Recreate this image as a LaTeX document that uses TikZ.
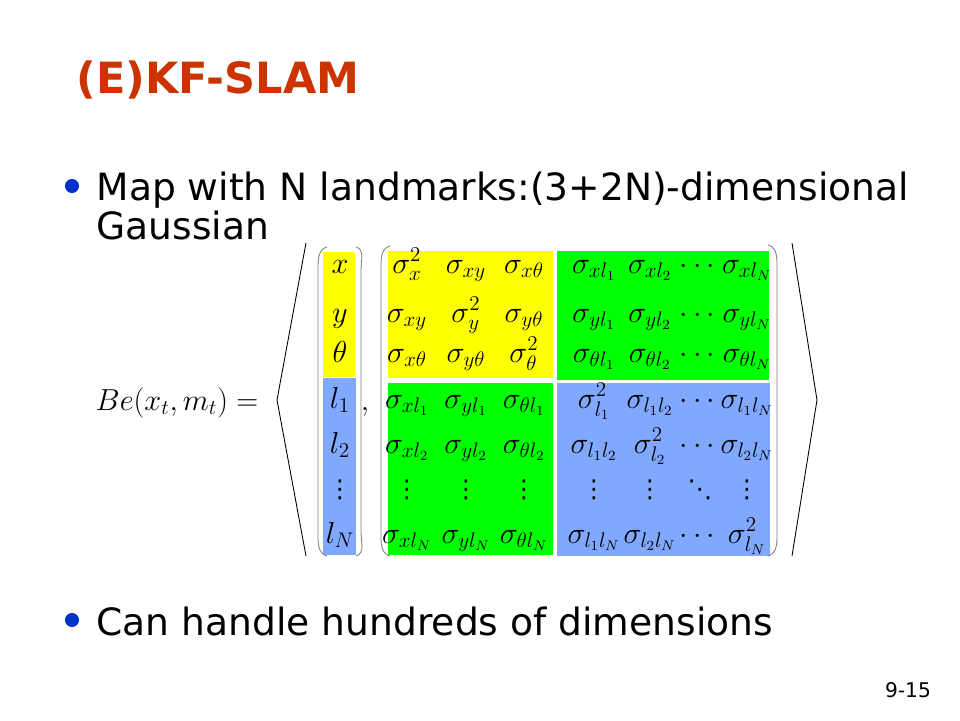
\documentclass[tikz,border=0pt]{standalone}
\usepackage[no-math]{fontspec}
\setmainfont{DejaVu Sans}
\usepackage{amsmath}
\usepackage{tikz}
\usepackage{xcolor}

\definecolor{slidered}{RGB}{204,51,0}
\definecolor{bulletblue}{RGB}{0,51,204}
\definecolor{covyellow}{RGB}{255,255,0}
\definecolor{covgreen}{RGB}{0,255,0}
\definecolor{covblue}{RGB}{128,168,255}

\tikzset{
  entry/.style={anchor=base, inner sep=0pt, font=\fontsize{17}{20}\selectfont},
  dotsentry/.style={anchor=base, inner sep=0pt, font=\fontsize{14}{16}\selectfont},
  bodytext/.style={anchor=base west, inner sep=0pt, font=\fontsize{21.4}{25}\selectfont},
  bulletdot/.style={circle, fill=bulletblue, inner sep=0pt, minimum size=8pt},
  paren/.style={gray, line width=0.5pt},
  angle/.style={black, line width=0.5pt},
}

\begin{document}
\begin{tikzpicture}[x=0.02cm, y=-0.02cm, thick, >=stealth]
    \useasboundingbox (0,0) rectangle (960,720);
    \node[anchor=base west, inner sep=0pt, text=slidered, font=\fontsize{24.5}{28}\selectfont\bfseries] (title) at (76,93) {(E)KF-SLAM};
    \node[bulletdot] (dotmap) at (72,186) {};
    \node[bodytext] (maptext) at (96,200) {Map with N landmarks:(3+2N)-dimensional};
    \node[bodytext] (gausstext) at (96,239) {Gaussian};
    \node[bulletdot] (dothandle) at (72,620) {};
    \node[bodytext] (handletext) at (96,635) {Can handle hundreds of dimensions};
    \node[font=\fontsize{11.5}{14}\selectfont] (pagenum) at (908,690) {9-15};

    \fill[covyellow] (323,252) rectangle (355,377);
    \fill[covblue] (323,378) rectangle (356,555);
    \fill[covyellow] (388,251) rectangle (553,378);
    \fill[covgreen] (557,251) rectangle (769,380);
    \fill[covgreen] (388,383) rectangle (553,555);
    \fill[covblue] (557,383) rectangle (770,556);

    \draw[angle] (306,243) -- (277,400) -- (306,556);
    \draw[angle] (792,243) -- (817,400) -- (792,556);
    \draw[paren] (327,247) to[out=195,in=90] (318,270) -- (318,532) to[out=-90,in=165] (327,556);
    \draw[paren] (356,247) to[out=-15,in=90] (361,270) -- (361,532) to[out=-90,in=15] (356,556);
    \draw[paren] (390,246) to[out=195,in=90] (381,270) -- (381,532) to[out=-90,in=165] (390,556);
    \draw[paren] (768,245) to[out=-15,in=90] (777,270) -- (777,532) to[out=-90,in=15] (768,556);

    \node[entry, anchor=base east] (bel) at (259,410) {$Be(x_t,m_t) =$};
    \node[entry] (comma) at (365,410) {$,$};

    \foreach \y/\e [count=\r] in {273/x, 322/y, 362/\theta, 408/l_1, 453/l_2, 543/l_N}
        \node[entry] (v\r) at (340,\y) {$\e$};
    \node[dotsentry] (vdots) at (340,497) {⋮};

    \foreach \x/\e [count=\c] in {407/\sigma_x^2, 466/\sigma_{xy}, 524/\sigma_{x\theta}, 594/\sigma_{xl_1}, 650/\sigma_{xl_2}, 700/\cdots, 747/\sigma_{xl_N}}
        \node[entry] (m1\c) at (\x,273) {$\e$};
    \foreach \x/\e [count=\c] in {407/\sigma_{xy}, 466/\sigma_y^2, 524/\sigma_{y\theta}, 594/\sigma_{yl_1}, 650/\sigma_{yl_2}, 700/\cdots, 747/\sigma_{yl_N}}
        \node[entry] (m2\c) at (\x,322) {$\e$};
    \foreach \x/\e [count=\c] in {407/\sigma_{x\theta}, 466/\sigma_{y\theta}, 524/\sigma_\theta^2, 594/\sigma_{\theta l_1}, 650/\sigma_{\theta l_2}, 700/\cdots, 747/\sigma_{\theta l_N}}
        \node[entry] (m3\c) at (\x,362) {$\e$};
    \foreach \x/\e [count=\c] in {407/\sigma_{xl_1}, 466/\sigma_{yl_1}, 524/\sigma_{\theta l_1}, 594/\sigma_{l_1}^2, 650/\sigma_{l_1l_2}, 700/\cdots, 747/\sigma_{l_1l_N}}
        \node[entry] (m4\c) at (\x,408) {$\e$};
    \foreach \x/\e [count=\c] in {407/\sigma_{xl_2}, 466/\sigma_{yl_2}, 524/\sigma_{\theta l_2}, 594/\sigma_{l_1l_2}, 650/\sigma_{l_2}^2, 700/\cdots, 747/\sigma_{l_2l_N}}
        \node[entry] (m5\c) at (\x,453) {$\e$};
    \foreach \x/\e [count=\c] in {407/⋮, 466/⋮, 524/⋮, 594/⋮, 650/⋮, 700/⋱, 747/⋮}
        \node[dotsentry] (m6\c) at (\x,497) {\e};
    \foreach \x/\e [count=\c] in {407/\sigma_{xl_N}, 466/\sigma_{yl_N}, 524/\sigma_{\theta l_N}, 594/\sigma_{l_1l_N}, 650/\sigma_{l_2l_N}, 700/\cdots, 747/\sigma_{l_N}^2}
        \node[entry] (m7\c) at (\x,543) {$\e$};
\end{tikzpicture}
\end{document}
